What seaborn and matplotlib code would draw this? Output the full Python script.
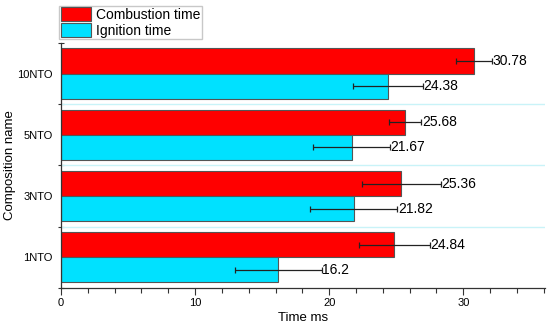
import pandas as pd
import numpy as np
import seaborn as sns
import matplotlib.pyplot as plt
from matplotlib.ticker import MultipleLocator, FixedLocator

names = ['10NTO', '5NTO', '3NTO', '1NTO']
combustion = [30.78, 25.68, 25.36, 24.84]
combustion_err = [1.35, 1.2, 2.95, 2.65]
ignition = [24.38, 21.67, 21.82, 16.2]
ignition_err = [2.6, 2.85, 3.25, 3.25]
series = ['Combustion time', 'Ignition time']

sns.set_style('white')
plt.rcParams['font.family'] = ['Liberation Sans', 'DejaVu Sans']
plt.rcParams['text.color'] = 'black'
plt.rcParams['axes.labelcolor'] = 'black'
plt.rcParams['xtick.color'] = 'black'
plt.rcParams['ytick.color'] = 'black'

df = pd.DataFrame({
    'name': names * 2,
    'time': combustion + ignition,
    'err': combustion_err + ignition_err,
    'type': [series[0]] * 4 + [series[1]] * 4,
})

fig = plt.figure(figsize=(5.5, 3.28), dpi=100)
ax = fig.add_axes([0.111, 0.122, 0.88, 0.747])
sns.barplot(data=df, x='time', y='name', hue='type', order=names, hue_order=series,
            palette=['#FF0000', '#00E1FF'], saturation=1, orient='h', width=0.82,
            edgecolor='#555555', linewidth=0.8, errorbar=None, ax=ax, zorder=2)

# error bars + value labels, positioned from the drawn bars
for cont, vals, errs in zip(ax.containers, [combustion, ignition], [combustion_err, ignition_err]):
    ys = [p.get_y() + p.get_height() / 2 for p in cont.patches]
    ax.errorbar(vals, ys, xerr=errs, fmt='none', ecolor='#222222', elinewidth=0.9,
                capsize=2.2, capthick=0.9, zorder=3)
    for v, e, y in zip(vals, errs, ys):
        ax.text(v + e + 0.05, y, f'{v:g}', va='center', ha='left', fontsize=10)

ax.set_xlim(0, 36.1)
ax.set_ylim(3.5, -0.5)
ax.xaxis.set_major_locator(MultipleLocator(10))
ax.xaxis.set_minor_locator(MultipleLocator(2))
ax.tick_params(axis='x', which='both', direction='out', bottom=True, length=3.5,
               width=0.8, color='#333333', labelsize=8, pad=2)
ax.tick_params(axis='x', which='major', length=5)
ax.yaxis.set_minor_locator(FixedLocator([-0.5, 0.5, 1.5, 2.5, 3.5]))
ax.tick_params(axis='y', which='major', length=0, labelsize=8, pad=6)
ax.tick_params(axis='y', which='minor', left=True, direction='inout', length=5,
               width=0.8, color='#333333')
for yb in [0.5, 1.5, 2.5]:
    ax.axhline(yb, color='#C9F3F8', lw=1, zorder=1)

for s in ['top', 'right']:
    ax.spines[s].set_visible(False)
for s in ['left', 'bottom']:
    ax.spines[s].set_color('#333333')
    ax.spines[s].set_linewidth(0.9)

ax.set_xlabel('Time ms', fontsize=9.5, labelpad=3)
ax.set_ylabel('Composition name', fontsize=9.5)
ax.yaxis.set_label_coords(-0.093, 0.5)

ax.legend(loc='lower left', bbox_to_anchor=(-0.004, 1.015), fontsize=10, frameon=True,
          fancybox=False, edgecolor='#BBBBBB', handlelength=2.2, handleheight=1.1,
          labelspacing=0.12, handletextpad=0.35, borderpad=0.12, borderaxespad=0)

fig.savefig('out.png', dpi=100)
